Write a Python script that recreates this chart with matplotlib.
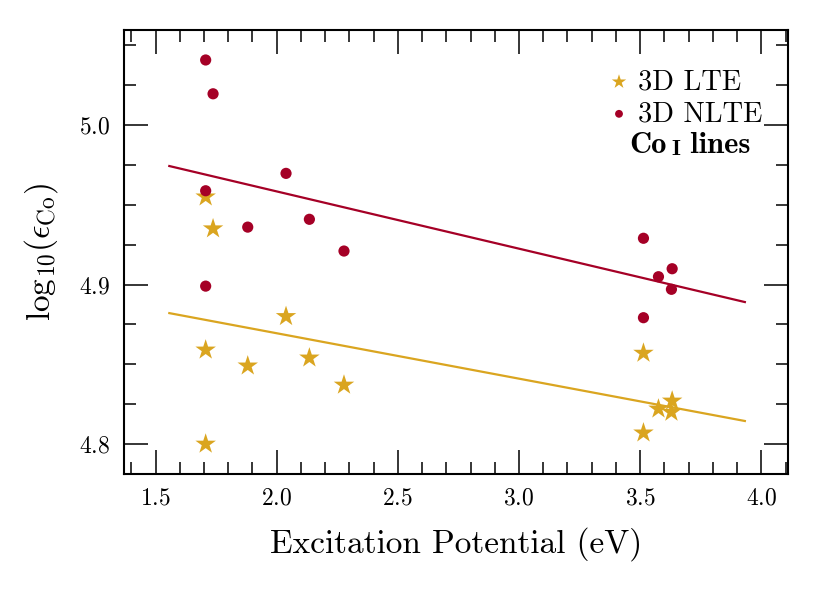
import matplotlib.pyplot as plt
import numpy as np

plt.rcParams['font.family'] = 'serif'
plt.rcParams['font.serif'] = ['cmr10']
plt.rcParams['mathtext.fontset'] = 'cm'
plt.rcParams['axes.formatter.use_mathtext'] = True

# Co I lines: excitation potential (eV) and abundances
ep = [1.707, 1.707, 1.707, 1.7375, 1.8806, 2.0386, 2.135, 2.2778,
      3.5136, 3.5136, 3.5755, 3.629, 3.632]
lte_3d = [4.955, 4.859, 4.800, 4.935, 4.849, 4.880, 4.854, 4.837,
          4.857, 4.807, 4.822, 4.820, 4.827]
nlte_3d = [5.0408, 4.9588, 4.899, 5.0196, 4.936, 4.9697, 4.9409, 4.921,
           4.929, 4.8792, 4.9049, 4.897, 4.9099]

gold = '#daa520'
red = '#a50026'

ep_arr = np.array(ep)
xfit = np.linspace(ep_arr.min() - 0.15, ep_arr.max() + 0.3, 50)

fig = plt.figure(figsize=(8.3, 5.93), dpi=100)
ax = fig.add_axes([0.1494, 0.2007, 0.7994, 0.7487])

for vals, col in [(lte_3d, gold), (nlte_3d, red)]:
    p = np.polyfit(ep_arr, np.array(vals), 1)
    ax.plot(xfit, np.polyval(p, xfit), color=col, lw=1.6, zorder=1)

ax.scatter(ep, lte_3d, marker='*', s=240, color=gold, edgecolors='none', label='3D LTE', zorder=2)
ax.scatter(ep, nlte_3d, marker='o', s=65, color=red, edgecolors='none', label='3D NLTE', zorder=3)

ax.set_xlim(1.37, 4.108)
ax.set_ylim(4.7812, 5.0596)
ax.set_xticks([1.5, 2.0, 2.5, 3.0, 3.5, 4.0])
ax.set_yticks([4.8, 4.9, 5.0])
ax.set_xticks(np.arange(1.4, 4.11, 0.1), minor=True)
ax.set_yticks(np.arange(4.8, 5.06, 0.025), minor=True)
ax.tick_params(which='both', direction='in', top=True, right=True, labelsize=17, pad=10)
ax.tick_params(which='major', length=17, width=1.1)
ax.tick_params(which='minor', length=8.5, width=1.1)
for sp in ax.spines.values():
    sp.set_linewidth(1.5)

ax.set_xlabel('Excitation Potential (eV)', fontsize=24, labelpad=12)
ax.set_ylabel(r'$\mathrm{log}_{10}(\epsilon_{\rm Co})$', fontsize=24, labelpad=14)

leg = ax.legend(loc='upper right', frameon=False, fontsize=20.5, markerscale=0.7,
                handlelength=0.6, handletextpad=0.35, labelspacing=0.2,
                borderaxespad=0.5, bbox_to_anchor=(1.0, 0.97))

t1 = ax.text(0.762, 0.723, 'Co', transform=ax.transAxes, fontsize=22,
             family='cmb10', va='baseline', ha='left')
t2 = ax.annotate('I', xy=(1, 0), xycoords=t1, xytext=(3, 0), textcoords='offset points',
                 fontsize=16, family='cmb10', va='bottom', ha='left')
ax.annotate(' lines', xy=(1, 0), xycoords=t2, fontsize=22, family='cmb10',
            va='bottom', ha='left')

fig.savefig('out.png', dpi=100)
